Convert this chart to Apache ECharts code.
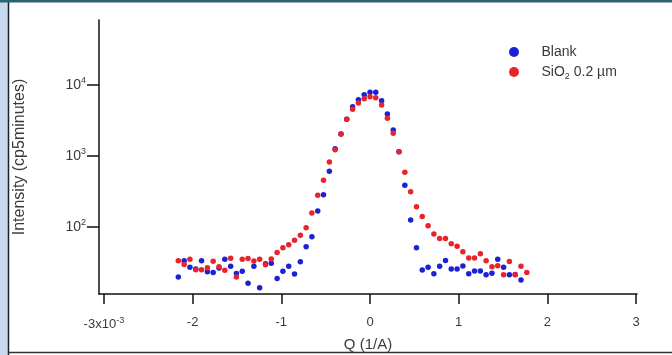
<!DOCTYPE html>
<html>
<head>
<meta charset="utf-8">
<script src="https://cdn.jsdelivr.net/npm/echarts@6/dist/echarts.min.js"></script>
<style>
html,body{margin:0;padding:0;background:#fff;overflow:hidden;}
#chart{width:672px;height:355px;}
</style>
</head>
<body>
<div id="chart"></div>
<script>
// Q values in units of 1e-3 (1/A)
const qValues = [-2.161,-2.095,-2.030,-1.964,-1.899,-1.833,-1.768,-1.702,-1.637,-1.571,
  -1.506,-1.440,-1.375,-1.309,-1.244,-1.178,-1.113,-1.047,-0.982,-0.916,
  -0.851,-0.785,-0.720,-0.655,-0.589,-0.524,-0.458,-0.393,-0.327,-0.262,
  -0.196,-0.131,-0.065,0.000,0.065,0.131,0.196,0.262,0.327,0.393,
  0.458,0.524,0.589,0.655,0.720,0.785,0.851,0.916,0.982,1.047,
  1.113,1.178,1.244,1.309,1.375,1.440,1.506,1.571,1.637,1.702,1.768];

const blankValues = [19.8,33.5,27.1,25.6,33.5,23.5,22.9,26.5,35.1,28.1,
  22.1,23.8,16.1,28.1,13.9,30.4,30.9,18.8,23.8,28.0,
  21.8,32.5,52.8,73.0,168,285,609,1267,2042,3289,
  4946,6209,7300,7916,7916,6011,3905,2324,1150,387,
  125,51.1,24.8,27.1,22.0,28.0,33.7,25.6,25.6,28.2,
  22.0,24.0,24.0,21.3,22.3,35.1,27.1,21.3,21.4,17.9];

const sio2Values = [33.5,29.6,35.1,25.0,25.0,26.7,32.9,27.5,24.6,36.3,
  19.8,35.2,36.0,33.2,35.2,29.4,35.4,43.7,50.9,56.3,
  65.0,76.4,97.8,157,280,455,823,1227,2042,3289,
  4545,5575,6412,6845,6603,5228,3396,2088,1150,589,
  314,193,140,104,79.7,68.9,68.9,58.0,53.5,44.9,
  36.6,36.6,42.1,33.4,27.5,28.4,21.3,32.7,21.3,28.1,22.9];

const xTicks = [-3,-2,-1,0,1,2,3];
const yTicks = [100,1000,10000];
const seriesNames = ['Blank','SiO2 0.2 µm'];

const blankData = blankValues.map((v,i)=>[qValues[i],v]);
const sio2Data = sio2Values.map((v,i)=>[qValues[i],v]);

const chart = echarts.init(document.getElementById('chart'));
const font = 'Arial, "Liberation Sans", Helvetica, sans-serif';
const txt = '#3a3a3a';

chart.setOption({
  animation:false,
  backgroundColor:'#ffffff',
  textStyle:{fontFamily:font},
  graphic:[
    {type:'rect',shape:{x:0,y:0,width:8,height:355},style:{fill:'#c6d9ef'},silent:true},
    {type:'line',shape:{x1:8.5,y1:0,x2:8.5,y2:355},style:{stroke:'#16222c',lineWidth:1.5},silent:true},
    {type:'rect',shape:{x:0,y:0,width:672,height:2.5},style:{fill:'#2d6272'},silent:true},
    {type:'line',shape:{x1:8,y1:352.5,x2:672,y2:352.5},style:{stroke:'#333',lineWidth:1.5},silent:true}
  ],
  grid:{left:99,right:35,top:20,bottom:61,containLabel:false,outerBoundsMode:'none'},
  legend:{
    orient:'vertical',left:504,top:40,
    itemWidth:25,itemHeight:10,itemGap:6,
    icon:'circle',
    data:seriesNames,
    formatter:function(name){return name===seriesNames[1]?'SiO{sub|2} 0.2 µm':name;},
    textStyle:{fontFamily:font,fontSize:14,color:txt,padding:[0,0,0,10],
      rich:{sub:{fontSize:9,padding:[9,0,0,0],fontFamily:font,color:txt}}}
  },
  xAxis:{
    type:'value',min:-3.055,max:3.01,
    name:'Q (1/A)',nameLocation:'middle',nameGap:43,
    nameTextStyle:{fontFamily:font,fontSize:15,color:txt},
    axisLine:{onZero:false,lineStyle:{color:'#111',width:1.5}},
    axisTick:{show:true,inside:false,length:10,customValues:xTicks,lineStyle:{color:'#111',width:1.5}},
    axisLabel:{customValues:xTicks,margin:22,fontSize:13,color:txt,fontFamily:font,
      formatter:function(v){return Math.abs(v+3)<1e-9?'-3x10{s|-3}':String(v);},
      rich:{s:{fontSize:9,padding:[0,0,8,0],color:txt,fontFamily:font}}},
    splitLine:{show:false}
  },
  yAxis:{
    type:'log',logBase:10,min:11.38,max:82330,
    name:'Intensity (cp5minutes)',nameLocation:'middle',nameGap:71,
    nameTextStyle:{fontFamily:font,fontSize:16,color:txt},
    axisLine:{show:true,onZero:false,lineStyle:{color:'#111',width:1.5}},
    axisTick:{show:true,inside:false,length:12,customValues:yTicks,lineStyle:{color:'#111',width:1.5}},
    minorTick:{show:false},
    axisLabel:{customValues:yTicks,margin:13,fontSize:14,color:txt,fontFamily:font,
      formatter:function(v){return '10{s|'+Math.round(Math.log10(v))+'}';},
      rich:{s:{fontSize:9,padding:[0,0,9,0],color:txt,fontFamily:font}}},
    splitLine:{show:false}
  },
  series:[
    {name:seriesNames[0],type:'scatter',data:blankData,symbol:'circle',symbolSize:5.5,
      itemStyle:{color:'#1b22d6',opacity:1}},
    {name:seriesNames[1],type:'scatter',data:sio2Data,symbol:'circle',symbolSize:5.5,
      itemStyle:{color:'#e8232a',opacity:1}}
  ]
});
</script>
</body>
</html>
